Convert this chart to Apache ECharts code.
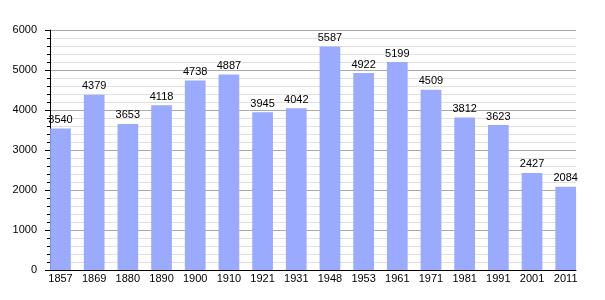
<!DOCTYPE html>
<html><head><meta charset="utf-8">
<script src="https://cdn.jsdelivr.net/npm/echarts@6/dist/echarts.min.js"></script>
<style>html,body{margin:0;padding:0;background:#fff}#c{width:605px;height:300px}</style>
</head><body><div id="c"></div>
<script>
const categories = ['1857','1869','1880','1890','1900','1910','1921','1931','1948','1953','1961','1971','1981','1991','2001','2011'];
const population = [3540,4379,3653,4118,4738,4887,3945,4042,5587,4922,5199,4509,3812,3623,2427,2084];
const yMin = 0, yMax = 6000, yStep = 1000;

const font = 'Liberation Sans, Arial, sans-serif';
const chart = echarts.init(document.getElementById('c'), null, {renderer:'canvas'});
chart.setOption({
  animation: false,
  backgroundColor: '#fff',
  grid: [
    {left: 50, right: 29, top: 30, bottom: 30},
    {left: 60.5, right: 39.3, top: 30, bottom: 30}
  ],
  xAxis: [
    {type: 'category', gridIndex: 0, data: categories, boundaryGap: true,
     axisLine: {show: true, lineStyle: {color: '#000', width: 1}},
     axisTick: {show: false}, axisLabel: {show: false}, splitLine: {show: false}},
    {type: 'category', gridIndex: 1, data: categories, boundaryGap: false,
     axisLine: {show: false}, axisTick: {show: false},
     axisLabel: {show: true, color: '#000', fontSize: 11, fontFamily: font, margin: 3, interval: 0}}
  ],
  yAxis: [
    {type: 'value', gridIndex: 0, min: yMin, max: yMax, interval: yStep,
     axisLine: {show: true, lineStyle: {color: '#000', width: 1}},
     axisTick: {show: true, length: 5, inside: false, lineStyle: {color: '#000'}},
     minorTick: {show: true, splitNumber: 5, length: 3, lineStyle: {color: '#000'}},
     axisLabel: {color: '#000', fontSize: 11, fontFamily: font, margin: 13, formatter: v => String(v)},
     splitLine: {show: true, lineStyle: {color: '#aaaaaa', width: 1}},
     minorSplitLine: {show: true, lineStyle: {color: '#e0e0e0', width: 1}}},
    {type: 'value', gridIndex: 1, min: yMin, max: yMax, interval: yStep, show: false,
     splitLine: {show: false}}
  ],
  series: [{
    type: 'bar', xAxisIndex: 1, yAxisIndex: 1, data: population,
    barWidth: 20.7, clip: false,
    itemStyle: {color: '#99aaff'},
    label: {show: true, position: 'top', distance: 3, color: '#000', fontSize: 11, fontFamily: font}
  }]
});
</script></body></html>
